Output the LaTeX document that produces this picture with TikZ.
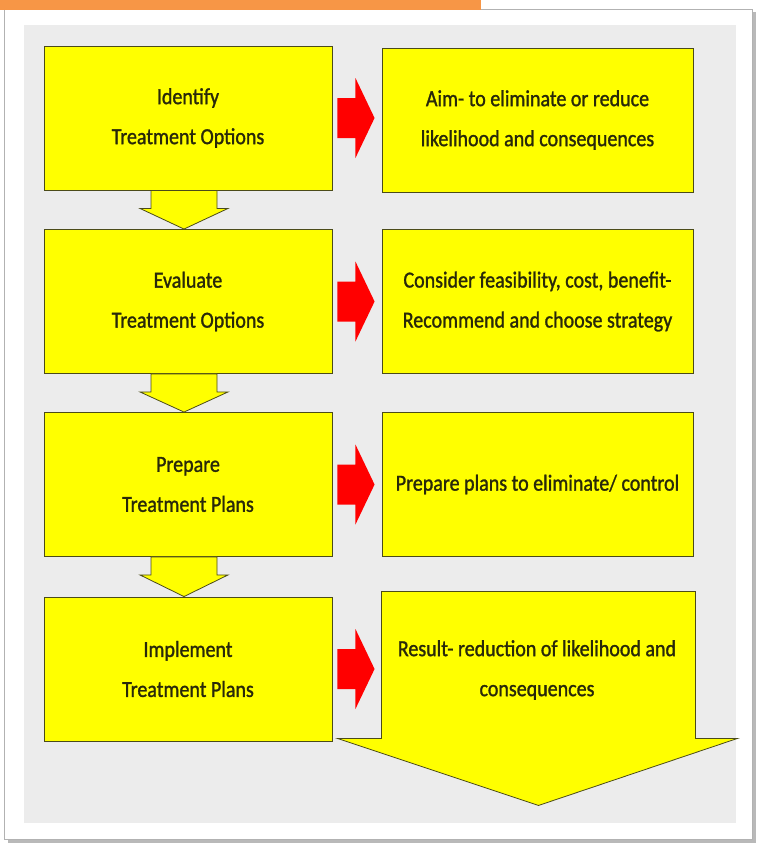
\documentclass[tikz,border=0pt]{standalone}
\usepackage{fontspec}
\setmainfont{Carlito}[FakeStretch=0.87,FakeBold=1.2]
\usepackage{tikz}
\usetikzlibrary{calc}

\definecolor{boxyellow}{RGB}{255,255,0}
\definecolor{boxline}{RGB}{75,75,25}
\definecolor{tabline}{RGB}{247,150,70}
\definecolor{panelgray}{RGB}{236,236,236}
\definecolor{textdark}{RGB}{40,40,10}

\begin{document}
\begin{tikzpicture}[x=1pt,y=-1pt,
  stepbox/.style={draw=boxline, fill=boxyellow, line width=0.9pt,
    minimum width=288pt, minimum height=144pt, align=center,
    text=textdark, font=\fontsize{23}{40}\selectfont},
  aimbox/.style={stepbox, minimum width=311pt},
  downarrow/.style={draw=boxline, fill=boxyellow, line width=0.8pt, line join=miter},
  redarrow/.style={fill=red}]
\useasboundingbox (0,0) rectangle (759,846);
% frame
\fill[gray!55] (8,12) rectangle (756,843);
\filldraw[fill=white, draw=gray!60] (4,9) rectangle (752,839);
\fill[panelgray] (24,25) rectangle (736,823);
\fill[tabline] (0,0) rectangle (481,10);

\node[stepbox] (identify) at (188,118) {Identify\\Treatment Options};
\node[stepbox] (evaluate) at (188,301.5) {Evaluate\\Treatment Options};
\node[stepbox] (prepare) at (188,484.5) {Prepare\\Treatment Plans};
\node[stepbox] (implement) at (188,669) {Implement\\Treatment Plans};

\node[aimbox] (aim) at (537.5,120) {Aim- to eliminate or reduce\\likelihood and consequences};
\node[aimbox] (consider) at (537.5,301.5) {Consider feasibility, cost, benefit-\\Recommend and choose strategy};
\node[aimbox] (plans) at (537.5,484.5) {Prepare plans to eliminate/ control};

% last step, box with arrow head
\node[aimbox, draw=none, fill=none, minimum width=313pt, minimum height=146pt] (result) at (538.5,665) {};
\draw[downarrow] (result.north west) -- (result.north east) -- (result.south east)
  -- ++(42,0) -- ($(result.south)+(0,67)$) -- ($(result.south west)+(-44,0)$)
  -- (result.south west) -- cycle;
\node[text=textdark, font=\fontsize{23}{40}\selectfont, align=center] (resulttext) at (537,670)
  {Result- reduction of likelihood and\\consequences};

\foreach \a/\b in {identify/evaluate, evaluate/prepare, prepare/implement}
  \draw[downarrow] ($(\a.south)+(-37,0)$) -- ($(\a.south)+(29,0)$) -- ($(\a.south)+(29,18)$)
    -- ($(\a.south)+(40,18)$) -- ($(\b.north)+(-4,0)$) -- ($(\a.south)+(-48,18)$)
    -- ($(\a.south)+(-37,18)$) -- cycle;

\foreach \a/\b in {identify/aim, evaluate/consider, prepare/plans, implement/result}
  \fill[redarrow] ($(\a.east)+(5,-20)$) -- ($(\a.east)+(23,-20)$) -- ($(\a.east)+(23,-40)$)
    -- ($(\a.east -| \b.west)+(-7,0)$) -- ($(\a.east)+(23,40)$) -- ($(\a.east)+(23,20)$)
    -- ($(\a.east)+(5,20)$) -- cycle;
\end{tikzpicture}
\end{document}
